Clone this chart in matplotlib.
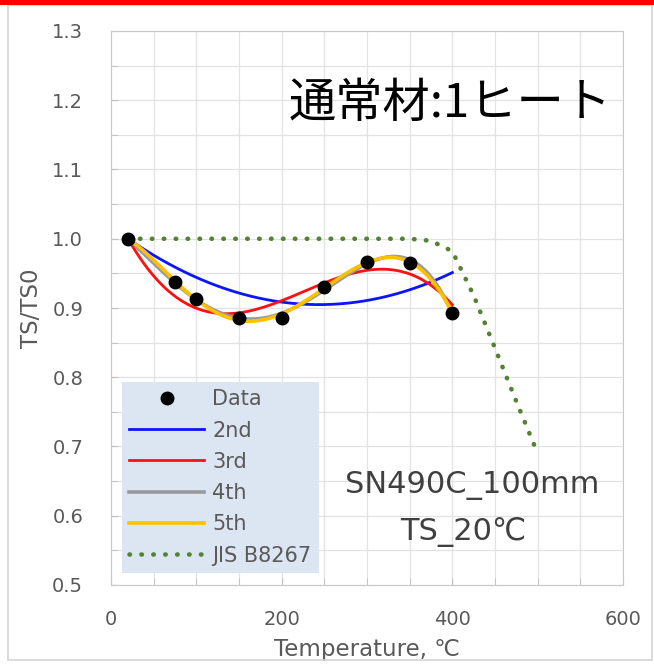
import matplotlib
matplotlib.use('Agg')
import matplotlib.pyplot as plt
import numpy as np
from matplotlib.patches import Rectangle
from matplotlib.ticker import MultipleLocator, FormatStrFormatter

temps = [20, 75, 100, 150, 200, 250, 300, 350, 400]
ts_ratio = [1.0, 0.937, 0.913, 0.886, 0.886, 0.931, 0.967, 0.965, 0.893]

# JIS B8267 reduction curve
jis_temps = [20, 100, 200, 300, 350, 375, 400, 425, 450, 475, 500]
jis_ratio = [1.0, 1.0, 1.0, 1.0, 1.0, 0.997, 0.982, 0.918, 0.842, 0.765, 0.69]

fit_orders = [2, 3, 4, 5]
fit_labels = ['2nd', '3rd', '4th', '5th']
fit_colors = ['#0a14ff', '#ff1010', '#9a9a9a', '#ffc000']

plt.rcParams['font.family'] = ['DejaVu Sans', 'Noto Sans CJK JP']
label_color = '#595959'


def constrained_fit(x, y, order, x0, y0):
    # least squares polynomial forced through the reference point (x0, y0)
    d = x - x0
    A = np.column_stack([d ** k for k in range(1, order + 1)])
    coef, *_ = np.linalg.lstsq(A, y - y0, rcond=None)
    return lambda t: y0 + sum(c * (t - x0) ** (k + 1) for k, c in enumerate(coef))


fig = plt.figure(figsize=(6.54, 6.67), dpi=100)
W, H = 654, 667

# slide frame and red top line
fig.add_artist(Rectangle((8 / W, 1 - 660 / H), 644 / W, 655 / H, transform=fig.transFigure,
                         facecolor='none', edgecolor='#d4d4d4', lw=1.2))
fig.add_artist(Rectangle((0, 1 - 5 / H), 1, 5 / H, transform=fig.transFigure,
                         facecolor='#ff0000', edgecolor='none'))

ax = fig.add_axes([111 / W, 1 - 585 / H, 512 / W, 554 / H])

x = np.array(temps, dtype=float)
y = np.array(ts_ratio, dtype=float)
xs = np.linspace(x.min(), x.max(), 200)

# polynomial trendlines (gray 4th under yellow 5th like the original)
handles = {}
for order, lab, col in zip(fit_orders, fit_labels, fit_colors):
    f = constrained_fit(x, y, order, x[0], y[0])
    lw = 2.6 if order >= 4 else 2.0
    line, = ax.plot(xs, f(xs), color=col, lw=lw, label=lab, zorder=3)
    handles[lab] = line

jis, = ax.plot(jis_temps, jis_ratio, color='#548235', lw=3.3, label='JIS B8267',
               dashes=(0.1, 2.5), dash_capstyle='round', zorder=2)
pts, = ax.plot(temps, ts_ratio, 'o', color='black', ms=9, label='Data', zorder=5)

ax.set_xlim(0, 600)
ax.set_ylim(0.5, 1.3)
ax.xaxis.set_major_locator(MultipleLocator(200))
ax.xaxis.set_minor_locator(MultipleLocator(50))
ax.yaxis.set_major_locator(MultipleLocator(0.1))
ax.yaxis.set_minor_locator(MultipleLocator(0.05))
ax.yaxis.set_major_formatter(FormatStrFormatter('%.1f'))
ax.grid(which='both', color='#e2e2e2', lw=0.9)
ax.set_axisbelow(True)
for sp in ax.spines.values():
    sp.set_color('#c8c8c8')
ax.tick_params(which='both', direction='in', color='#c0c0c0', length=5,
               labelsize=14, labelcolor=label_color)
ax.tick_params(axis='x', pad=18)
ax.tick_params(axis='y', pad=20)

ax.set_xlabel('Temperature, ℃', fontsize=16.5, color=label_color, va='center')
ax.xaxis.set_label_coords(0.5, -0.117)
ax.set_ylabel('TS/TS0', fontsize=16.5, color=label_color, va='center')
ax.yaxis.set_label_coords(-0.156, 0.5)

ax.text(0.662, 0.868, '通常材:1ヒート', transform=ax.transAxes, fontsize=34,
        family=['Noto Sans CJK JP', 'DejaVu Sans'], ha='center', va='center', color='black')
ax.text(0.705, 0.18, 'SN490C_100mm', transform=ax.transAxes, fontsize=22,
        ha='center', va='center', color='#404040')
ax.text(0.6875, 0.0957, 'TS_20℃', transform=ax.transAxes, fontsize=22,
        ha='center', va='center', color='#404040')

leg = ax.legend([pts, handles['2nd'], handles['3rd'], handles['4th'], handles['5th'], jis],
                ['Data', '2nd', '3rd', '4th', '5th', 'JIS B8267'],
                loc='lower left', bbox_to_anchor=(0.021, 0.022), borderaxespad=0,
                fontsize=15, labelcolor=label_color, numpoints=1,
                handlelength=3.6, handletextpad=0.4, labelspacing=0.54,
                borderpad=0.35, fancybox=False, framealpha=1)
leg.get_frame().set_facecolor('#dce6f2')
leg.get_frame().set_edgecolor('none')

fig.savefig('out.png', dpi=100)
